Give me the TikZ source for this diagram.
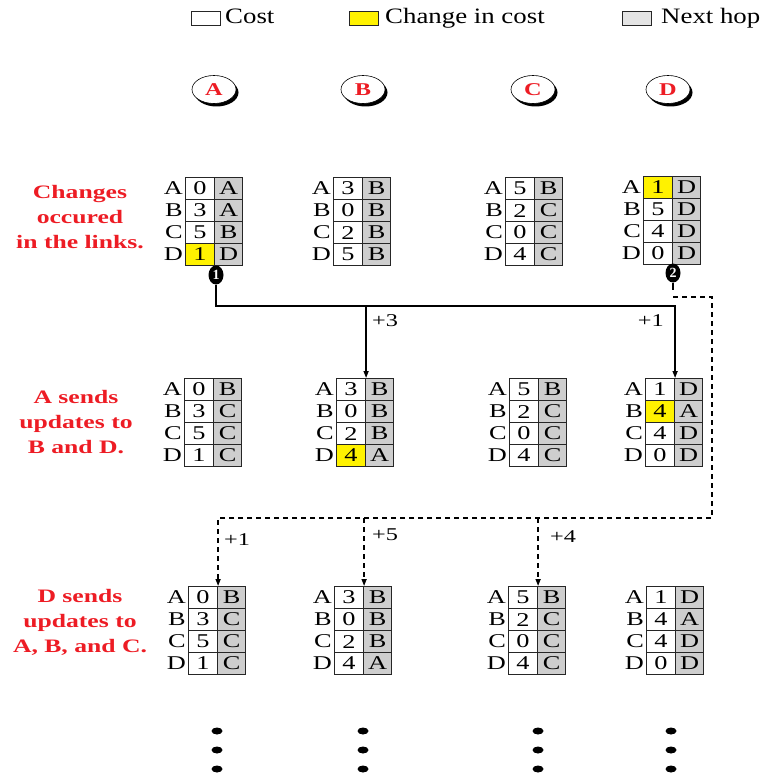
\documentclass[tikz,border=0pt]{standalone}
\usepackage{fontspec}
\setmainfont{Liberation Serif}
\newfontfamily\wf{Liberation Serif}[FakeStretch=1.35]
\newfontfamily\lgf{Liberation Serif}[FakeStretch=1.22]
\usetikzlibrary{shapes.geometric,arrows.meta}
\definecolor{hopgray}{RGB}{206,206,206}
\definecolor{lggray}{RGB}{228,228,228}
\definecolor{chgyellow}{RGB}{255,242,0}
\definecolor{lblred}{RGB}{237,28,36}
\newcommand\rtab[4]{%
  \foreach \r/\c/\h/\s [count=\i from 0] in {#4}{%
    \node[costcell,fill=\s] (#1-\r-c) at ({#2},{#3+22*\i}) {\c};
    \node[hopcell] (#1-\r-h) at ({#2+29},{#3+22*\i}) {\h};
    \node[rowlab] (#1-\r) at ({#2-2},{#3+11+22*\i}) {\r};
  }}
\begin{document}
\begin{tikzpicture}[x=1pt,y=-1pt,
  cell/.style={draw=black!85, line width=1.1pt, anchor=north west, inner sep=0pt,
    minimum height=22pt, font=\wf\fontsize{19.5}{19.5}\selectfont},
  costcell/.style={cell, minimum width=29pt},
  hopcell/.style={cell, fill=hopgray, minimum width=28pt},
  rowlab/.style={anchor=east, inner sep=0pt, font=\wf\fontsize{19.5}{19.5}\selectfont},
  redlbl/.style={align=center, text=lblred, inner sep=0pt,
    font=\wf\bfseries\fontsize{19}{25}\selectfont},
  plus/.style={inner sep=0pt, font=\wf\fontsize{18}{18}\selectfont},
  marker/.style={ellipse, fill=black, text=white, inner sep=0pt, minimum width=15pt,
    minimum height=19pt, font=\bfseries\fontsize{14}{14}\selectfont},
  ellshadow/.style={ellipse, fill=black, inner sep=0pt, minimum width=44pt, minimum height=28pt},
  ellnode/.style={ellipse, fill=white, draw=black, line width=0.6pt, inner sep=0pt,
    minimum width=44pt, minimum height=28pt, text=lblred, font=\wf\bfseries\fontsize{18}{18}\selectfont},
  lgbox/.style={draw=black!85, line width=0.9pt, minimum width=29pt, minimum height=14pt, inner sep=0pt},
  lgtext/.style={anchor=base west, inner sep=0pt, font=\lgf\fontsize{22}{22}\selectfont},
  sline/.style={line width=1.5pt, -{Triangle[length=7pt,width=5pt]}},
  dline/.style={line width=1.5pt, dash pattern=on 5pt off 4pt, -{Triangle[length=7pt,width=5pt]}},
  stem/.style={line width=1.5pt}
]
\useasboundingbox (0,0) rectangle (768,778);
% legend
\node[lgbox, fill=white] (lgc) at (206,18) {};
\node[lgtext] (ltc) at (225,23.5) {Cost};
\node[lgbox, fill=chgyellow] (lgy) at (364,18) {};
\node[lgtext] (lty) at (385,23.5) {Change in cost};
\node[lgbox, fill=lggray] (lgg) at (637,18) {};
\node[lgtext] (ltg) at (661,23.5) {Next hop};
% router ellipses
\foreach \n/\x in {A/214,B/363,C/533,D/668}{
  \node[ellshadow] (s\n) at ({\x+2.5},92.5) {};
  \node[ellnode] (c\n) at (\x,89.5) {\n};
}
% row labels
\node[redlbl] (l1) at (80,217) {Changes\\occured\\in the links.};
\node[redlbl] (l2) at (76,422) {A sends\\updates to\\B and D.};
\node[redlbl] (l3) at (80,622) {D sends\\updates to\\A, B, and C.};
% tables row 1
\rtab{t1a}{185}{177}{A/0/A/white, B/3/A/white, C/5/B/white, D/1/D/chgyellow}
\rtab{t1b}{333}{177}{A/3/B/white, B/0/B/white, C/2/B/white, D/5/B/white}
\rtab{t1c}{505}{177}{A/5/B/white, B/2/C/white, C/0/C/white, D/4/C/white}
\rtab{t1d}{643}{176}{A/1/D/chgyellow, B/5/D/white, C/4/D/white, D/0/D/white}
% tables row 2
\rtab{t2a}{184}{378}{A/0/B/white, B/3/C/white, C/5/C/white, D/1/C/white}
\rtab{t2b}{336}{378}{A/3/B/white, B/0/B/white, C/2/B/white, D/4/A/chgyellow}
\rtab{t2c}{509}{378}{A/5/B/white, B/2/C/white, C/0/C/white, D/4/C/white}
\rtab{t2d}{645}{378}{A/1/D/white, B/4/A/chgyellow, C/4/D/white, D/0/D/white}
% tables row 3
\rtab{t3a}{188}{586}{A/0/B/white, B/3/C/white, C/5/C/white, D/1/C/white}
\rtab{t3b}{334}{586}{A/3/B/white, B/0/B/white, C/2/B/white, D/4/A/white}
\rtab{t3c}{508}{586}{A/5/B/white, B/2/C/white, C/0/C/white, D/4/C/white}
\rtab{t3d}{646}{586}{A/1/D/white, B/4/A/white, C/4/D/white, D/0/D/white}
% markers
\node[marker] (m1) at (216,275) {1};
\node[marker] (m2) at (673,273) {2};
% solid updates from A
\coordinate (j) at (0,306);
\draw[sline] (m1.south) -- (m1.south |- j) -| (t2d-A-c.north east);
\draw[sline] (t2b-A-c.north east |- j) -- (t2b-A-c.north east);
\node[plus, anchor=west] (p3) at (372,321) {+3};
\node[plus, anchor=east] (p1) at (664,321) {+1};
% dashed updates from D
\coordinate (d1) at (712,297);
\coordinate (d2) at (712,518);
\draw[stem] (m2.south) -- ++(0,7);
\draw[dline] (m2.south |- d1) -- (d1) -- (d2) -| (t3a-A-c.north east);
\draw[dline] (t3b-A-c.north east |- d2) -- (t3b-A-c.north east);
\draw[dline] (t3c-A-c.north east |- d2) -- (t3c-A-c.north east);
\node[plus, anchor=west] (q1) at (224,540) {+1};
\node[plus, anchor=west] (q5) at (372,535) {+5};
\node[plus, anchor=west] (q4) at (550,537) {+4};
% continuation dots
\foreach \x in {217,363,538,671}
  \foreach \y in {731,750,769}
    \fill (\x,\y) ellipse (5.5pt and 3.5pt);
\end{tikzpicture}
\end{document}
